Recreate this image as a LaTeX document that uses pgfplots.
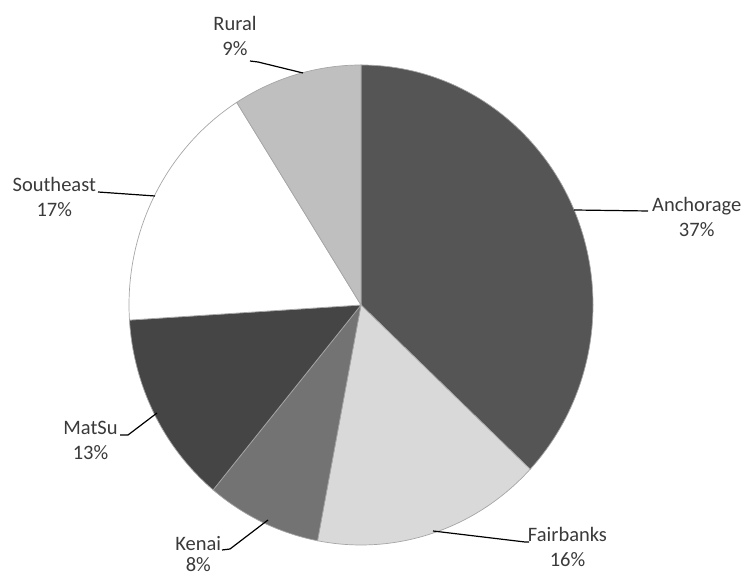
\documentclass[border=0pt]{standalone}
\usepackage{pgfplots}
\pgfplotsset{compat=1.18}
\usepackage{fontspec}
\setmainfont{Carlito}

% slice colours, clockwise from the top
\definecolor{slice1}{HTML}{555555} % Anchorage
\definecolor{slice2}{HTML}{D9D9D9} % Fairbanks
\definecolor{slice3}{HTML}{737373} % Kenai
\definecolor{slice4}{HTML}{454545} % MatSu
\definecolor{slice5}{HTML}{FFFFFF} % Southeast
\definecolor{slice6}{HTML}{BFBFBF} % Rural
\definecolor{edge}{HTML}{A6A6A6}
\definecolor{txt}{HTML}{3A3A3A}

\tikzset{lab/.style={overlay,anchor=base,text=txt,font=\fontsize{20.5}{24.5}\selectfont}}

% label: x centre, first baseline (image rows from top), name, share
\newcommand\lbl[4]{%
  \node[lab] at (axis cs:#1,{580-#2}) {#3};
  \node[lab] at (axis cs:#1,{580-#2-24.5}) {#4};}

\begin{document}
\begin{tikzpicture}
% start and end angle of every slice from the shares (percent)
\xdef\cur{90}
\foreach \v [count=\i] in {37,16,8,13,17,9}{
  \pgfmathsetmacro\e{\cur-3.6*\v}
  \expandafter\xdef\csname sa\i\endcsname{\cur}
  \expandafter\xdef\csname ea\i\endcsname{\e}
  \xdef\cur{\e}
}
\begin{axis}[
  scale only axis,
  width=745pt, height=580pt,
  xmin=0, xmax=745, ymin=0, ymax=580,
  enlargelimits=false,
  hide axis,
  clip=false,
]
  \pgfplotsinvokeforeach{1,...,6}{
    \filldraw[fill=slice#1, draw=edge, line width=0.7pt]
      (axis cs:361,275)
      -- (axis cs:{361+232*cos(\csname sa#1\endcsname)},{275+240*sin(\csname sa#1\endcsname)})
      arc[start angle=\csname sa#1\endcsname, end angle=\csname ea#1\endcsname,
          x radius=232pt, y radius=240pt]
      -- cycle;
  }

  % leader lines
  \draw[black, line width=1.2pt] (axis cs:574,370) -- (axis cs:648,369);
  \draw[black, line width=1.2pt] (axis cs:433,49) -- (axis cs:525,38) -- (axis cs:529,38);
  \draw[black, line width=1.2pt] (axis cs:268,60) -- (axis cs:230,31) -- (axis cs:222,30);
  \draw[black, line width=1.2pt] (axis cs:157,167) -- (axis cs:128,145) -- (axis cs:120,145);
  \draw[black, line width=1.2pt] (axis cs:155,384) -- (axis cs:98,388);
  \draw[black, line width=1.2pt] (axis cs:303,507) -- (axis cs:258,518) -- (axis cs:250,519);

  \lbl{696.7}{211.7}{Anchorage}{37\%}
  \lbl{567.5}{542}{Fairbanks}{16\%}
  \node[lab] at (axis cs:198.3,{580-551}) {Kenai};
  \node[lab] at (axis cs:198.3,{580-572}) {8\%};
  \lbl{90.5}{435}{MatSu}{13\%}
  \lbl{54.3}{192}{Southeast}{17\%}
  \lbl{235}{31}{Rural}{9\%}
\end{axis}
\pgfresetboundingbox
\path[use as bounding box] (current axis.south west) rectangle (current axis.north east);
\end{tikzpicture}
\end{document}
